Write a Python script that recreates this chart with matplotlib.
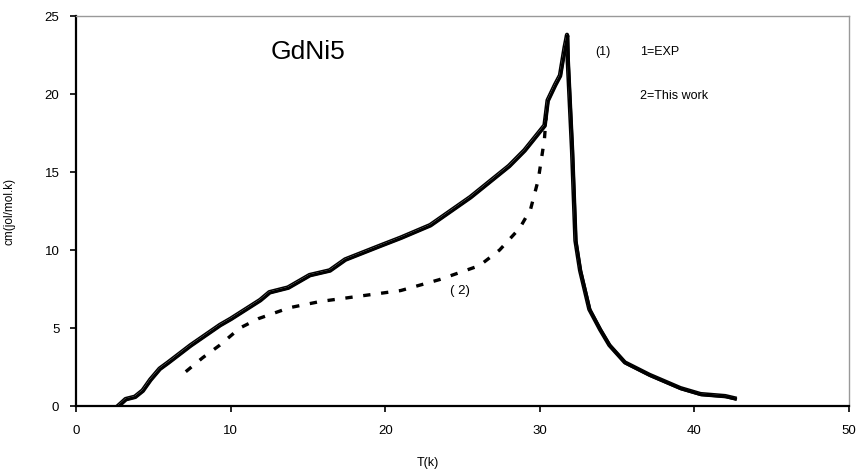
import numpy as np
import matplotlib.pyplot as plt

plt.rcParams['font.family'] = ['Liberation Sans', 'DejaVu Sans']

# measured curve (1)
exp_t = [2.7, 3.2, 3.8, 4.3, 4.8, 5.4, 5.95, 7.4, 9.3, 10.0, 11.9, 12.5, 13.7,
         15.1, 16.4, 17.4, 19.7, 21.0, 22.9, 25.5, 28.0, 29.0, 30.3, 30.5,
         30.98, 31.3, 31.6, 31.76, 31.8, 32.08, 32.3, 32.6, 33.2, 33.9, 34.5,
         35.5, 37.1, 39.1, 40.4, 42.0, 42.6]
exp_cm = [0.0, 0.45, 0.6, 1.0, 1.7, 2.4, 2.8, 3.9, 5.2, 5.6, 6.8, 7.3, 7.6,
          8.4, 8.7, 9.4, 10.3, 10.8, 11.6, 13.4, 15.4, 16.4, 18.0, 19.6,
          20.6, 21.2, 23.0, 23.8, 22.2, 16.4, 10.6, 8.7, 6.2, 4.9, 3.9,
          2.8, 2.0, 1.15, 0.77, 0.64, 0.5]

# dashed curve (2)
calc_t = [7.1, 8.2, 9.3, 10.6, 11.8, 13.8, 15.8, 18.4, 21.0, 23.5, 26.1,
          27.4, 28.7, 29.4, 29.9, 30.3, 30.4]
calc_cm = [2.2, 3.1, 3.9, 5.0, 5.6, 6.3, 6.7, 7.05, 7.4, 8.1, 9.0,
           10.0, 11.4, 12.6, 14.5, 17.1, 18.5]

fig = plt.figure(figsize=(8.56, 4.71), dpi=100)
ax = fig.add_axes([0.0888, 0.138, 0.903, 0.828])

# hollow trace, mostly covered by the thick one
ax.plot(exp_t, exp_cm, color='black', lw=3.0, solid_joinstyle='round')
ax.plot(exp_t, exp_cm, color='white', lw=0.8)
ax.plot(np.array(exp_t) + 0.05, np.array(exp_cm) - 0.05, color='black', lw=2.3)
ax.plot(calc_t, calc_cm, color='black', lw=2.4, dashes=(2.2, 3.2))

ax.set_xlim(0, 50)
ax.set_ylim(0, 25)
ax.set_xticks([0, 10, 20, 30, 40, 50])
ax.set_yticks([0, 5, 10, 15, 20, 25])
ax.tick_params(labelsize=9.5, direction='out', length=4, width=1.2, pad=8)
for s in ['left', 'bottom']:
    ax.spines[s].set_linewidth(1.6)
for s in ['top', 'right']:
    ax.spines[s].set_color('#999999')
    ax.spines[s].set_linewidth(1.0)
ax.tick_params(axis='x', pad=10)

ax.set_xlabel('T(k)', fontsize=9)
ax.set_ylabel('cm(jol/mol.k)', fontsize=8.5)
ax.xaxis.set_label_coords(0.455, -0.13)
ax.yaxis.set_label_coords(-0.078, 0.5)

ax.text(15.0, 22.7, 'GdNi5', fontsize=19, ha='center', va='center')
ax.text(33.6, 22.7, '(1)', fontsize=9, va='center')
ax.text(36.5, 22.7, '1=EXP', fontsize=9, va='center')
ax.text(36.5, 19.9, '2=This work', fontsize=9, va='center')
ax.text(24.2, 7.4, '( 2)', fontsize=9.5, va='center')

plt.savefig('out.png', dpi=100)
